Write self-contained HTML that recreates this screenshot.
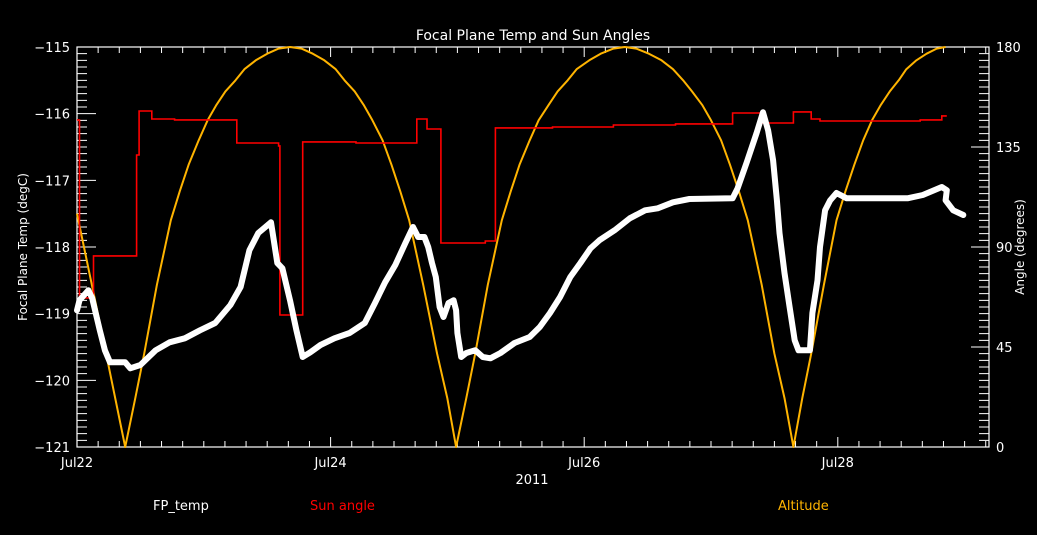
<!DOCTYPE html>
<html><head><meta charset="utf-8">
<style>
html,body{margin:0;padding:0;background:#000;}
svg{display:block;font-family:"DejaVu Sans","Liberation Sans",sans-serif;}
</style></head>
<body>
<svg id="chart" width="1037" height="535" viewBox="0 0 1037 535" xmlns="http://www.w3.org/2000/svg">
<rect x="0" y="0" width="1037" height="535" fill="#000"/>
<text x="533" y="40" fill="#fff" font-size="14" text-anchor="middle">Focal Plane Temp and Sun Angles</text>
<text transform="translate(27,247) rotate(-90)" fill="#fff" font-size="12" text-anchor="middle">Focal Plane Temp (degC)</text>
<text transform="translate(1024,247) rotate(-90)" fill="#fff" font-size="12" text-anchor="middle">Angle (degrees)</text>
<text x="532" y="484" fill="#fff" font-size="13" text-anchor="middle">2011</text>
<text x="153" y="510" fill="#fff" font-size="13">FP_temp</text>
<text x="310" y="510" fill="#ff0000" font-size="13">Sun angle</text>
<text x="778" y="510" fill="#ffb400" font-size="13">Altitude</text>
<g id="axes"></g>
<g id="series"></g>
</svg>
<script>
const xTickLabels = ["Jul22","Jul24","Jul26","Jul28"];
const xTickDays = [0,2,4,6];
const yTickLabels = ["-115","-116","-117","-118","-119","-120","-121"];
const yTickValues = [-115,-116,-117,-118,-119,-120,-121];
const rTickLabels = ["180","135","90","45","0"];
const rTickValues = [180,135,90,45,0];

const fpDays = [0.00,0.02,0.09,0.12,0.18,0.22,0.26,0.38,0.42,0.50,0.62,0.73,0.85,0.97,1.09,1.21,1.29,1.36,1.43,1.53,1.58,1.62,1.68,1.73,1.78,1.84,1.92,2.03,2.15,2.27,2.35,2.43,2.51,2.59,2.65,2.69,2.74,2.77,2.80,2.83,2.86,2.89,2.93,2.97,2.99,3.00,3.03,3.07,3.14,3.20,3.26,3.34,3.45,3.57,3.65,3.73,3.81,3.89,3.97,4.05,4.12,4.24,4.36,4.48,4.58,4.70,4.83,5.17,5.21,5.28,5.36,5.41,5.45,5.49,5.52,5.54,5.58,5.62,5.66,5.69,5.78,5.80,5.84,5.86,5.90,5.94,5.99,6.07,6.55,6.67,6.82,6.86,6.85,6.91,6.99];
const fpTemps = [-118.95,-118.80,-118.65,-118.77,-119.25,-119.55,-119.73,-119.73,-119.82,-119.77,-119.55,-119.43,-119.37,-119.25,-119.14,-118.87,-118.60,-118.05,-117.79,-117.63,-118.24,-118.32,-118.80,-119.25,-119.65,-119.58,-119.47,-119.37,-119.29,-119.14,-118.84,-118.53,-118.27,-117.94,-117.70,-117.85,-117.85,-118.00,-118.24,-118.45,-118.90,-119.05,-118.84,-118.80,-118.95,-119.29,-119.65,-119.59,-119.55,-119.65,-119.67,-119.59,-119.44,-119.35,-119.20,-118.99,-118.75,-118.45,-118.24,-118.02,-117.90,-117.75,-117.57,-117.45,-117.42,-117.33,-117.28,-117.27,-117.12,-116.74,-116.29,-115.98,-116.25,-116.70,-117.30,-117.79,-118.39,-118.90,-119.40,-119.55,-119.55,-118.99,-118.50,-118.00,-117.45,-117.30,-117.19,-117.27,-117.27,-117.22,-117.10,-117.15,-117.30,-117.45,-117.52];

const sunDays = [0.00,0.02,0.13,0.47,0.49,0.59,0.77,1.26,1.59,1.60,1.78,2.20,2.68,2.76,2.87,3.22,3.30,3.75,4.23,4.72,5.17,5.39,5.65,5.79,5.86,6.65,6.82,6.86];
const sunAngles = [147.2,67.1,86.0,131.4,151.2,147.6,147.2,136.8,135.5,59.4,137.3,136.8,147.6,143.1,91.8,92.7,143.6,144.0,144.9,145.4,150.3,145.8,150.8,147.6,146.7,147.2,149.0,149.0];

const altDays = [0.00,0.19,0.38,0.46,0.53,0.63,0.74,0.81,0.88,0.96,1.03,1.10,1.17,1.25,1.32,1.41,1.50,1.59,1.68,1.77,1.86,1.95,2.04,2.11,2.19,2.26,2.33,2.41,2.48,2.55,2.62,2.73,2.84,2.92,2.99,3.07,3.14,3.24,3.35,3.42,3.49,3.57,3.64,3.72,3.79,3.87,3.94,4.04,4.13,4.23,4.32,4.41,4.51,4.61,4.70,4.78,4.85,4.93,5.00,5.08,5.15,5.22,5.29,5.40,5.50,5.58,5.65,5.72,5.79,5.89,5.99,6.06,6.13,6.20,6.27,6.34,6.41,6.48,6.54,6.62,6.70,6.78,6.85];
const altAngles = [105,53,0,22,42,73,102,115,127,138,147,154,160,165,170,174,177,179.3,180,179.3,177,174,170,165,160,154,147,138,127,115,102,73,42,22,0,22,42,73,102,115,127,138,147,154,160,165,170,174,177,179.3,180,179.3,177,174,170,165,160,154,147,138,127,115,102,73,42,22,0,22,42,73,102,115,127,138,147,154,160,165,170,174,177,179.3,180];

const L=77,R=989,T=47,B=447, PXDAY=126.8;
const xS=d=>L+d*PXDAY;
const yT=v=>T+(-115-v)/6*(B-T);
const yA=v=>B-v/180*(B-T);
const NS="http://www.w3.org/2000/svg";
const axes=document.getElementById('axes'), ser=document.getElementById('series');
function mk(tag,attrs,parent){const e=document.createElementNS(NS,tag);for(const k in attrs)e.setAttribute(k,attrs[k]);parent.appendChild(e);return e;}

const frame=mk('rect',{x:L,y:T,width:R-L,height:B-T,fill:'none',stroke:'#fff','stroke-width':1.2},axes);



let tp='';
for(let i=0;i*PXDAY/6<=R-L+0.5;i++){const x=L+i*PXDAY/6;const len=(i%12===0)?10:6;tp+=`M${x} ${B}V${B-len}M${x} ${T}V${T+len}`;}
for(let i=0;i<=60;i++){const y=T+i*(B-T)/60;const len=(i%10===0)?19:10;tp+=`M${L} ${y}H${L+len}`;}
for(let i=0;i<=60;i++){const y=T+i*(B-T)/60;const len=(i%15===0)?18:10;tp+=`M${R} ${y}H${R-len}`;}
const ticks=mk('path',{d:tp,stroke:'#fff','stroke-width':1,fill:'none'},axes);



xTickLabels.forEach((s,i)=>{const t=mk('text',{x:xS(xTickDays[i]),y:467,fill:'#fff','font-size':13,'text-anchor':'middle'},axes);t.textContent=s;

});
yTickLabels.forEach((s,i)=>{const t=mk('text',{x:70,y:yT(yTickValues[i])+5,fill:'#fff','font-size':13,'text-anchor':'end'},axes);t.textContent=s.replace('-','\u2212');

});
rTickLabels.forEach((s,i)=>{const t=mk('text',{x:996,y:yA(rTickValues[i])+5,fill:'#fff','font-size':13},axes);t.textContent=s;

});

let ap=altDays.map((d,i)=>`${i?'L':'M'}${xS(d).toFixed(1)} ${yA(altAngles[i]).toFixed(1)}`).join('');
const alt=mk('path',{d:ap,stroke:'#ffb400','stroke-width':2,fill:'none','stroke-linejoin':'round'},ser);



let sp='';
sunDays.forEach((d,i)=>{const x=xS(d).toFixed(1),y=yA(sunAngles[i]).toFixed(1);if(i===0)sp+=`M${x} ${y}`;else sp+=`H${x}V${y}`;});
const sun=mk('path',{d:sp,stroke:'#ff0000','stroke-width':1.6,fill:'none'},ser);



let fp=fpDays.map((d,i)=>`${i?'L':'M'}${xS(d).toFixed(1)} ${yT(fpTemps[i]).toFixed(1)}`).join('');
const fpl=mk('path',{d:fp,stroke:'#fff','stroke-width':6,fill:'none','stroke-linejoin':'round','stroke-linecap':'round'},ser);


</script>
</body></html>
